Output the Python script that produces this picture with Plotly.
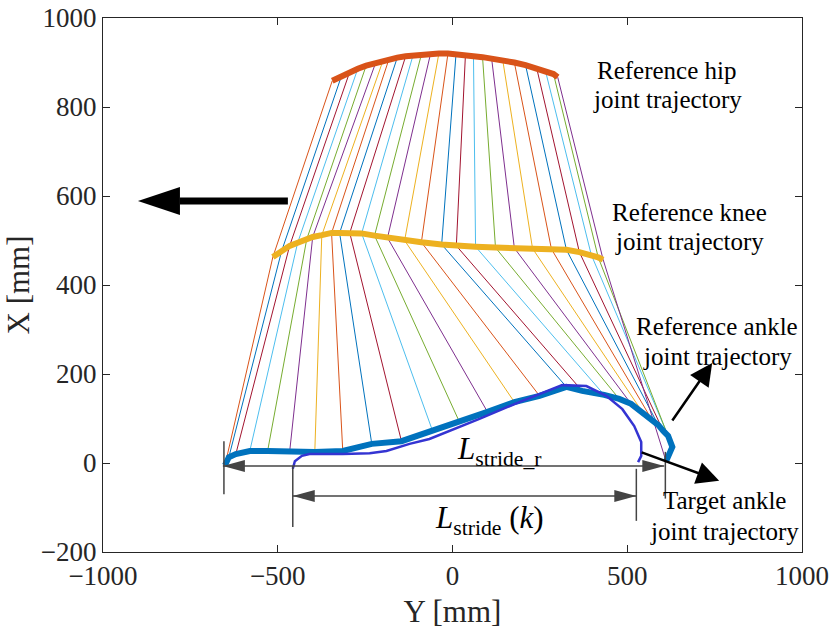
import plotly.graph_objects as go

# ---------------- data ----------------
# stick-figure leg snapshots: hip -> knee -> ankle  (Y [mm], X [mm])
hip_y = [-344, -318, -294, -271, -247, -220, -199, -182, -158, -134, -113, -89, -63, -39,
         -13, 10, 37, 60, 86, 112, 144, 177, 209, 241, 266, 289, 301]
hip_x = [859, 869, 879, 886, 893, 899, 904, 907, 911, 914, 916, 918, 919, 920,
         920, 919, 917, 914, 912, 909, 904, 900, 894, 887, 881, 874, 867]
knee_y = [-514, -489, -466, -443, -417, -400, -374, -346, -323, -294, -260, -223, -186, -137,
          -89, -31, 11, 66, 123, 177, 229, 283, 326, 363, 397, 417, 431]
knee_x = [463, 476, 488, 495, 503, 508, 512, 517, 517, 517, 516, 511, 506, 500,
          496, 491, 488, 486, 484, 483, 482, 481, 479, 474, 468, 462, 457]
ankle_y = [-651, -640, -620, -580, -529, -466, -394, -314, -231, -146, -57, 20, 100, 177,
           249, 326, 371, 434, 477, 511, 543, 569, 589, 603, 617, 629, 611]
ankle_x = [-5, 13, 20, 27, 27, 25, 25, 27, 43, 49, 72, 92, 115, 137,
           151, 171, 162, 153, 144, 133, 115, 99, 85, 72, 61, 36, 4]

# target ankle joint trajectory
target_y = [-457, -451, -431, -409, -314, -237, -189, -123, -66, 77, 191, 314, 383, 440,
            486, 520, 540, 540, 531]
target_x = [-13, 4, 16, 20, 20, 22, 27, 43, 54, 99, 137, 175, 173, 151,
            121, 83, 47, 16, 2]

stick_colors = ["#D95319", "#0072BD", "#A2142F", "#4DBEEE", "#77AC30", "#7E2F8E", "#EDB120"]

x_ticks = [-1000, -500, 0, 500, 1000]
y_ticks = [-200, 0, 200, 400, 600, 800, 1000]

# label texts: (Y centre, X of line 1, X of line 2, line1, line2)
labels = [
    (614, 881, 816, "Reference hip", "joint trajectory"),
    (677, 564, 497, "Reference knee", "joint trajectory"),
    (757, 306, 240, "Reference ankle", "joint trajectory"),
    (777, -85, -153, "Target ankle", "joint trajectory"),
]

# annotation geometry (data units)
stride_r = (-657, 606, -7)      # left tip, right tip, level
stride_k = (-457, 526, -74)
FONT = "Liberation Serif, Times New Roman, serif"
INK = "#262626"
DIM = "#444444"

fig = go.Figure()

# sticks
for i in range(len(hip_y)):
    fig.add_trace(go.Scatter(
        x=[hip_y[i], knee_y[i], ankle_y[i]], y=[hip_x[i], knee_x[i], ankle_x[i]],
        mode="lines", line=dict(color=stick_colors[i % 7], width=1),
        showlegend=False, hoverinfo="skip"))

# reference trajectories
fig.add_trace(go.Scatter(x=hip_y, y=hip_x, mode="lines",
                         line=dict(color="#D95319", width=6), showlegend=False))
fig.add_trace(go.Scatter(x=knee_y, y=knee_x, mode="lines",
                         line=dict(color="#EDB120", width=6), showlegend=False))
fig.add_trace(go.Scatter(x=ankle_y, y=ankle_x, mode="lines",
                         line=dict(color="#0072BD", width=6), showlegend=False))
fig.add_trace(go.Scatter(x=target_y, y=target_x, mode="lines",
                         line=dict(color="#3434D2", width=2.5), showlegend=False))

shapes = []


def tri(xa, ya, direction, length, half, color):
    d = 1 if direction == "right" else -1
    path = f"M0,0 L{-d*length},{half} L{-d*length},{-half} Z"
    return dict(type="path", xref="x", yref="y", xsizemode="pixel", ysizemode="pixel",
                xanchor=xa, yanchor=ya, path=path, fillcolor=color,
                line=dict(color=color, width=0))


def seg(x0, y0, x1, y1, color, width):
    return dict(type="line", xref="x", yref="y", x0=x0, y0=y0, x1=x1, y1=y1,
                line=dict(color=color, width=width))


# L_stride_r dimension
l, r, lev = stride_r
shapes.append(seg(l, lev, r, lev, DIM, 1.5))
shapes.append(tri(l, lev, "left", 22, 6, DIM))
shapes.append(tri(r, lev, "right", 22, 6, DIM))
shapes.append(seg(l + 3, 49, l + 3, -70, DIM, 1.5))
shapes.append(seg(r + 3, 25, r + 3, -80, DIM, 1.5))

# L_stride(k) dimension
l, r, lev = stride_k
shapes.append(seg(l, lev, r, lev, DIM, 1.5))
shapes.append(tri(l, lev, "left", 22, 6, DIM))
shapes.append(tri(r, lev, "right", 22, 6, DIM))
shapes.append(seg(l, -7, l, -144, DIM, 1.5))
shapes.append(seg(r, -13, r, -130, DIM, 1.5))

# big motion-direction arrow
shapes.append(seg(-780, 589, -471, 589, "black", 7))
shapes.append(tri(-900, 589, "left", 42, 14, "black"))

annotations = [
    dict(x=134, y=27, xref="x", yref="y", showarrow=False,
         text="<i>L</i><sub>stride_r</sub>", font=dict(family=FONT, size=31, color="black")),
    dict(x=106, y=-128, xref="x", yref="y", showarrow=False,
         text="<i>L</i><sub>stride</sub> (<i>k</i>)", font=dict(family=FONT, size=31, color="black")),
    dict(x=743, y=225, ax=626, ay=92, xref="x", yref="y", axref="x", ayref="y",
         text="", showarrow=True, arrowhead=2, arrowwidth=2.5, arrowsize=1.8, arrowcolor="black"),
    dict(x=763, y=-40, ax=537, ay=25, xref="x", yref="y", axref="x", ayref="y",
         text="", showarrow=True, arrowhead=2, arrowwidth=2.5, arrowsize=1.8, arrowcolor="black"),
]
for ly, lx1, lx2, t1, t2 in labels:
    annotations.append(dict(x=ly, y=lx1, xref="x", yref="y", showarrow=False, text=t1,
                            font=dict(family=FONT, size=25, color="black")))
    annotations.append(dict(x=ly, y=lx2, xref="x", yref="y", showarrow=False, text=t2,
                            font=dict(family=FONT, size=25, color="black")))

fig.update_layout(
    width=835, height=637,
    margin=dict(l=103, r=33, t=18, b=85),
    paper_bgcolor="white", plot_bgcolor="white",
    font=dict(family=FONT, size=27, color=INK),
    shapes=shapes, annotations=annotations,
    xaxis=dict(range=[-1000, 1000], tickvals=x_ticks, showgrid=False, zeroline=False,
               showline=True, mirror="ticks", ticks="inside", ticklen=7,
               linecolor=INK, linewidth=1, tickcolor=INK, automargin=False,
               title=dict(text="Y [mm]", font=dict(size=31), standoff=9)),
    yaxis=dict(range=[-200, 1000], tickvals=y_ticks, showgrid=False, zeroline=False,
               showline=True, mirror="ticks", ticks="inside", ticklen=7,
               linecolor=INK, linewidth=1, tickcolor=INK, automargin=False,
               title=dict(text="X [mm]", font=dict(size=31), standoff=2)),
)

fig.write_html("out.html", config={"displayModeBar": False},
               post_script="document.body.style.margin='0';")
